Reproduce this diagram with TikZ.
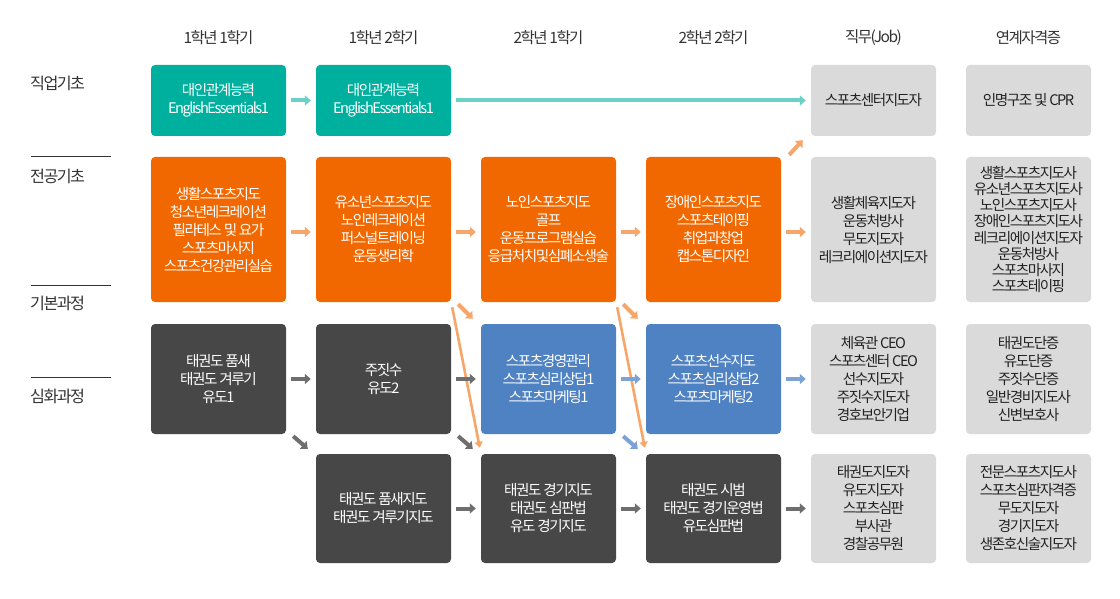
\documentclass[tikz,border=0pt]{standalone}
\usepackage{fontspec}
\setmainfont{Noto Sans CJK KR}[LetterSpace=-10]
\usetikzlibrary{arrows.meta}
\definecolor{cteal}{HTML}{00B09E}
\definecolor{ctealA}{HTML}{6BD0C6}
\definecolor{corange}{HTML}{F26800}
\definecolor{corangeA}{HTML}{F7A66A}
\definecolor{cdark}{HTML}{474747}
\definecolor{cblue}{HTML}{4F82C2}
\definecolor{cblueA}{HTML}{7BA3D8}
\definecolor{cgrey}{HTML}{DADADA}
\definecolor{cgreyA}{HTML}{6E6E6E}
\definecolor{ctext}{HTML}{222222}
\definecolor{chead}{HTML}{333333}
\begin{document}
\begin{tikzpicture}[x=1pt,y=-1pt,
  box/.style={rounded corners=4pt, minimum width=135pt, inner sep=0pt, align=center,
    font=\fontsize{14.6}{18}\selectfont, text=white},
  jbox/.style={box, minimum width=125pt, fill=cgrey, text=ctext},
  rA/.style={minimum height=71pt},
  rB/.style={minimum height=145pt},
  rC/.style={minimum height=110pt},
  rD/.style={minimum height=109pt},
  hdr/.style={font=\fontsize{15.5}{18}\selectfont, text=chead},
  lbl/.style={font=\fontsize{16.2}{18}\selectfont, text=chead, anchor=west, inner sep=0pt},
  arr/.style={line width=4pt, -{Triangle[length=6pt,width=10pt]}},
  arrthin/.style={line width=2.6pt, -{Triangle[length=6pt,width=8pt]}},
]
\fill[white] (0,0) rectangle (1120,599);
\useasboundingbox (0,0) rectangle (1120,599);

% headers
\node[hdr] (h1) at (218.5,38) {1학년 1학기};
\node[hdr] (h2) at (383.5,38) {1학년 2학기};
\node[hdr] (h3) at (548.5,38) {2학년 1학기};
\node[hdr] (h4) at (713.5,38) {2학년 2학기};
\node[hdr] (h5) at (873.5,38) {직무(Job)};
\node[hdr] (h6) at (1028.5,38) {연계자격증};

% left labels
\node[lbl] (l1) at (30,83) {직업기초};
\node[lbl] (l2) at (30,176) {전공기초};
\node[lbl] (l3) at (30,303) {기본과정};
\node[lbl] (l4) at (30,396) {심화과정};
\draw[chead, line width=1pt] (31,157) -- (111,157);
\draw[chead, line width=1pt] (31,285) -- (111,285);
\draw[chead, line width=1pt] (31,377) -- (111,377);

% row 1
\node[box, rA, fill=cteal] (a1) at (218.5,100.5) {대인관계능력\\EnglishEssentials1};
\node[box, rA, fill=cteal] (a2) at (383.5,100.5) {대인관계능력\\EnglishEssentials1};
\node[jbox, rA] (aj) at (873.5,100.5) {스포츠센터지도자};
\node[jbox, rA] (ac) at (1028.5,100.5) {인명구조 및 CPR};

% row 2
\node[box, rB, fill=corange] (b1) at (218.5,229.5) {생활스포츠지도\\청소년레크레이션\\필라테스 및 요가\\스포츠마사지\\스포츠건강관리실습};
\node[box, rB, fill=corange] (b2) at (383.5,229.5) {유소년스포츠지도\\노인레크레이션\\퍼스널트레이닝\\운동생리학};
\node[box, rB, fill=corange] (b3) at (548.5,229.5) {노인스포츠지도\\골프\\운동프로그램실습\\응급처치및심폐소생술};
\node[box, rB, fill=corange] (b4) at (713.5,229.5) {장애인스포츠지도\\스포츠테이핑\\취업과창업\\캡스톤디자인};
\node[jbox, rB] (bj) at (873.5,229.5) {생활체육지도자\\운동처방사\\무도지도자\\레크리에이션지도자};
\node[jbox, rB, font=\fontsize{14.6}{16.2}\selectfont] (bc) at (1028.5,229.5) {생활스포츠지도사\\유소년스포츠지도사\\노인스포츠지도사\\장애인스포츠지도사\\레크리에이션지도자\\운동처방사\\스포츠마사지\\스포츠테이핑};

% row 3
\node[box, rC, fill=cdark] (c1) at (218.5,379) {태권도 품새\\태권도 겨루기\\유도1};
\node[box, rC, fill=cdark] (c2) at (383.5,379) {주짓수\\유도2};
\node[box, rC, fill=cblue] (c3) at (548.5,379) {스포츠경영관리\\스포츠심리상담1\\스포츠마케팅1};
\node[box, rC, fill=cblue] (c4) at (713.5,379) {스포츠선수지도\\스포츠심리상담2\\스포츠마케팅2};
\node[jbox, rC] (cj) at (873.5,379) {체육관 CEO\\스포츠센터 CEO\\선수지도자\\주짓수지도자\\경호보안기업};
\node[jbox, rC] (cc) at (1028.5,379) {태권도단증\\유도단증\\주짓수단증\\일반경비지도사\\신변보호사};

% row 4
\node[box, rD, fill=cdark] (d2) at (383.5,508.5) {태권도 품새지도\\태권도 겨루기지도};
\node[box, rD, fill=cdark] (d3) at (548.5,508.5) {태권도 경기지도\\태권도 심판법\\유도 경기지도};
\node[box, rD, fill=cdark] (d4) at (713.5,508.5) {태권도 시범\\태권도 경기운영법\\유도심판법};
\node[jbox, rD] (dj) at (873.5,508.5) {태권도지도자\\유도지도자\\스포츠심판\\부사관\\경찰공무원};
\node[jbox, rD] (dc) at (1028.5,508.5) {전문스포츠지도사\\스포츠심판자격증\\무도지도자\\경기지도자\\생존호신술지도자};

% row 1 arrows
\draw[arr, ctealA] ([xshift=5pt]a1.east) -- ([xshift=-5pt]a2.west);
\draw[arr, ctealA] ([xshift=5pt]a2.east) -- ([xshift=-5pt]aj.west);

% row 2 arrows
\draw[arr, corangeA] ([shift={(5,2.5)}]b1.east) -- ([shift={(-5,2.5)}]b2.west);
\draw[arr, corangeA] ([shift={(5,2.5)}]b2.east) -- ([shift={(-5,2.5)}]b3.west);
\draw[arr, corangeA] ([shift={(5,2.5)}]b3.east) -- ([shift={(-5,2.5)}]b4.west);
\draw[arr, corangeA] ([shift={(5,2.5)}]b4.east) -- ([shift={(-5,2.5)}]bj.west);
\draw[arr, corangeA] ([shift={(8,-2)}]b4.north east) -- ([shift={(-8,4)}]aj.south west);

% row 2 -> row 3 / row 4 diagonals
\draw[arr, corangeA] ([shift={(7,2)}]b2.south east) -- ([shift={(-8,-5)}]c3.north west);
\draw[arr, corangeA] ([shift={(7,2)}]b3.south east) -- ([shift={(-8,-5)}]c4.north west);
\draw[arrthin, corangeA] ([shift={(1,5)}]b2.south east) -- ([shift={(-1,-6)}]d3.north west);
\draw[arrthin, corangeA] ([shift={(1,5)}]b3.south east) -- ([shift={(-1,-6)}]d4.north west);

% row 3 arrows
\draw[arr, cgreyA] ([xshift=5pt]c1.east) -- ([xshift=-5pt]c2.west);
\draw[arr, cgreyA] ([xshift=5pt]c2.east) -- ([xshift=-5pt]c3.west);
\draw[arr, cblueA] ([xshift=5pt]c3.east) -- ([xshift=-5pt]c4.west);
\draw[arr, cblueA] ([xshift=5pt]c4.east) -- ([xshift=-5pt]cj.west);

% row 3 -> row 4 diagonals
\draw[arr, cgreyA] ([shift={(7,2)}]c1.south east) -- ([shift={(-8,-5)}]d2.north west);
\draw[arr, cgreyA] ([shift={(7,2)}]c2.south east) -- ([shift={(-8,-5)}]d3.north west);
\draw[arr, cblueA] ([shift={(7,2)}]c3.south east) -- ([shift={(-8,-5)}]d4.north west);

% row 4 arrows
\draw[arr, cgreyA] ([xshift=5pt]d2.east) -- ([xshift=-5pt]d3.west);
\draw[arr, cgreyA] ([xshift=5pt]d3.east) -- ([xshift=-5pt]d4.west);
\draw[arr, cgreyA] ([xshift=5pt]d4.east) -- ([xshift=-5pt]dj.west);
\end{tikzpicture}
\end{document}
